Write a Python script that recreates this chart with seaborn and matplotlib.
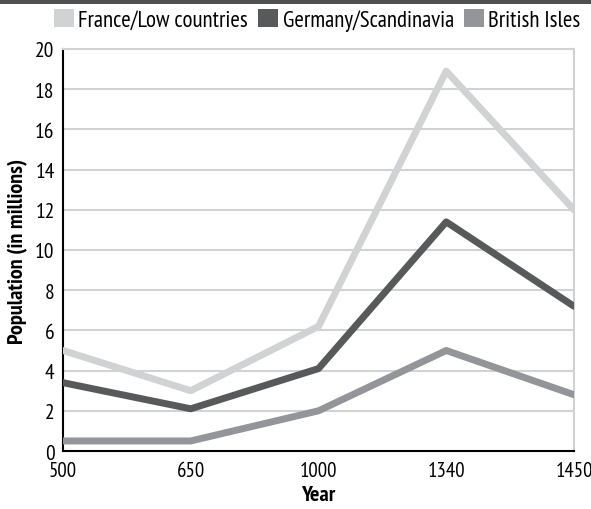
import numpy as np
import pandas as pd
import seaborn as sns
import matplotlib.pyplot as plt
from matplotlib.patches import Rectangle

# data
years = ["500", "650", "1000", "1340", "1450"]
france = [5.0, 3.0, 6.2, 18.9, 12.0]
germany = [3.4, 2.1, 4.1, 11.4, 7.2]
british = [0.5, 0.5, 2.0, 5.0, 2.8]
series_names = ["France/Low countries", "Germany/Scandinavia", "British Isles"]
colors = ["#d1d2d4", "#58595b", "#939598"]

# long format for seaborn
df = pd.DataFrame({
    "Year": years * 3,
    "Population": france + germany + british,
    "Region": [series_names[0]] * 5 + [series_names[1]] * 5 + [series_names[2]] * 5,
})

sns.set_style("white")
plt.rcParams['font.family'] = ['PT Sans Narrow', 'DejaVu Sans']

fig = plt.figure(figsize=(5.91, 5.10), dpi=100)
ax = fig.add_axes([0.1066, 0.1137, 0.8646, 0.7883])

# dark strip along the top edge
fig.patches.append(Rectangle((0, 0.99), 1, 0.01, transform=fig.transFigure,
                             facecolor="#505050", edgecolor="none"))

sns.lineplot(data=df, x="Year", y="Population", hue="Region", palette=colors,
             linewidth=5, sort=False, ax=ax, legend=False, zorder=3)

ax.set_xlim(0, 4)
ax.set_ylim(0, 20)
ax.set_yticks(np.arange(0, 21, 2))
ax.yaxis.grid(True, color="#d1d2d4", linewidth=1.5, zorder=0)
ax.set_axisbelow(True)
for s in ["top", "right"]:
    ax.spines[s].set_color("#d1d2d4")
    ax.spines[s].set_linewidth(1.5)
for s in ["left", "bottom"]:
    ax.spines[s].set_color("black")
    ax.spines[s].set_linewidth(1.5)
ax.tick_params(axis="y", labelsize=15.5, length=0, pad=6, labelcolor="black")
ax.tick_params(axis="x", labelsize=15, length=0, pad=7, labelcolor="black")
ax.set_xlabel("Year", fontsize=16, fontweight="bold", labelpad=4, color="black")
ax.set_ylabel("Population (in millions)", fontsize=16, fontweight="bold", labelpad=5, color="black")

# square legend markers at the top
handles = [Rectangle((0, 0), 1, 1, facecolor=c, edgecolor="none") for c in colors]
fig.legend(handles, series_names, loc="upper center", bbox_to_anchor=(0.537, 0.99),
           ncol=3, frameon=False, fontsize=16.5, handlelength=0.85, handleheight=0.85,
           handletextpad=0.2, columnspacing=0.45, labelcolor="black", borderpad=0.0,
           borderaxespad=0.2)

fig.savefig("out.png", dpi=100)
